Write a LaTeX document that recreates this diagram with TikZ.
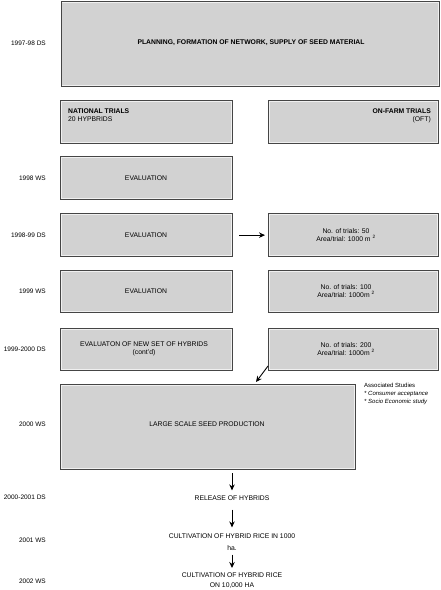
\documentclass[tikz,border=0pt]{standalone}
\usepackage{fontspec}
\setmainfont{Liberation Sans}
\usetikzlibrary{arrows.meta,calc}
\definecolor{boxfill}{HTML}{D2D2D2}
\definecolor{boxedge}{HTML}{454545}
\definecolor{boxlight}{HTML}{F0F0F0}
\begin{document}
\begin{tikzpicture}[x=1pt,y=-1pt,
  stagebox/.style={rectangle, fill=boxfill, draw=boxedge, line width=1.3pt, inner sep=0pt,
    path picture={\draw[boxlight, line width=2.6pt] (path picture bounding box.south west) rectangle (path picture bounding box.north east);}},
  txt/.style={inner sep=0pt, font=\fontsize{6.8}{8}\selectfont, align=center},
  boldtxt/.style={inner sep=0pt, font=\fontsize{6.8}{8}\selectfont\bfseries},
  yearlbl/.style={inner sep=0pt, anchor=east, font=\fontsize{6.5}{8}\selectfont},
  arr/.style={-{Stealth[length=6pt,width=5.5pt]}, line width=0.9pt, black}
]
\fill[white] (0,0) rectangle (440,590);
\useasboundingbox (0,0) rectangle (440,590);

% boxes
\node[stagebox, minimum width=378pt, minimum height=85pt, anchor=north west] (plan) at (60.5,0.8) {};
\node[stagebox, minimum width=172pt, minimum height=43pt, anchor=north west] (nt) at (60,100) {};
\node[stagebox, minimum width=170pt, minimum height=43pt, anchor=north west] (oft) at (268,100) {};
\node[stagebox, minimum width=172pt, minimum height=43pt, anchor=north west] (e1) at (60,156) {};
\node[stagebox, minimum width=172pt, minimum height=43pt, anchor=north west] (e2) at (60,213) {};
\node[stagebox, minimum width=170pt, minimum height=43pt, anchor=north west] (r2) at (268,213) {};
\node[stagebox, minimum width=172pt, minimum height=42pt, anchor=north west] (e3) at (60,270) {};
\node[stagebox, minimum width=170pt, minimum height=42pt, anchor=north west] (r3) at (268,270) {};
\node[stagebox, minimum width=172pt, minimum height=42pt, anchor=north west] (e4) at (60,328) {};
\node[stagebox, minimum width=170pt, minimum height=42pt, anchor=north west] (r4) at (268,328) {};
\node[stagebox, minimum width=295pt, minimum height=85pt, anchor=north west] (lsp) at (60,384) {};

% box texts
\node[boldtxt] (plantxt) at (251,43) {PLANNING, FORMATION OF NETWORK, SUPPLY OF SEED MATERIAL};
\node[inner sep=0pt, anchor=north west, align=left, font=\fontsize{6.8}{8}\selectfont] (nttxt) at (68,109)
  {\textbf{NATIONAL TRIALS}\\20 HYPBRIDS};
\node[inner sep=0pt, anchor=north east, align=right, font=\fontsize{6.8}{8}\selectfont] (ofttxt) at (431,109)
  {\textbf{ON-FARM TRIALS}\\(OFT)};
\node[txt] (e1txt) at (146,178) {EVALUATION};
\node[txt] (e2txt) at (146,235) {EVALUATION};
\node[txt] (r2txt) at (346,235) {No. of trials: 50\\Area/trial: 1000 m \textsuperscript{2}};
\node[txt] (e3txt) at (146,291) {EVALUATION};
\node[txt] (r3txt) at (346,291) {No. of trials: 100\\Area/trial: 1000m \textsuperscript{2}};
\node[txt] (e4txt) at (144,349) {EVALUATON OF NEW SET OF HYBRIDS\\(cont'd)};
\node[txt] (r4txt) at (346,349) {No. of trials: 200\\Area/trial: 1000m \textsuperscript{2}};
\node[txt] (lsptxt) at (207,424) {LARGE SCALE SEED PRODUCTION};

% associated studies
\node[inner sep=0pt, anchor=north west, align=left, font=\fontsize{6}{8}\selectfont] (assoc) at (364,383)
  {Associated Studies\\\textit{* Consumer acceptance}\\\textit{* Socio Economic study}};

% bottom steps
\node[txt] (rel) at (232,498) {RELEASE OF HYBRIDS};
\node[txt, font=\fontsize{6.8}{12}\selectfont] (cult1) at (232,542) {CULTIVATION OF HYBRID RICE IN 1000\\ha.};
\node[txt, font=\fontsize{6.8}{10}\selectfont] (cult2) at (232,581) {CULTIVATION OF HYBRID RICE\\ON 10,000 HA};

% year labels
\node[yearlbl] (y1) at (46,43) {1997-98 DS};
\node[yearlbl] (y2) at (46,178) {1998 WS};
\node[yearlbl] (y3) at (46,235) {1998-99 DS};
\node[yearlbl] (y4) at (46,291) {1999 WS};
\node[yearlbl] (y5) at (46,349) {1999-2000 DS};
\node[yearlbl] (y6) at (46,424) {2000 WS};
\node[yearlbl] (y7) at (46,497) {2000-2001 DS};
\node[yearlbl] (y8) at (46,540) {2001 WS};
\node[yearlbl] (y9) at (46,581) {2002 WS};

% connectors
\draw[arr, shorten <=6pt, shorten >=3pt] (e2) -- (r2);
\coordinate (d1) at (268,366);
\coordinate (d2) at (256,382);
\draw[arr] (d1) -- (d2);
\draw[arr, shorten <=3pt, shorten >=5pt] (lsp.south -| rel.north) -- (rel.north);
\draw[arr, shorten <=9pt, shorten >=6pt] (rel.south) -- (cult1.north);
\draw[arr, shorten <=4pt, shorten >=5pt] (cult1.south) -- (cult2.north);
\end{tikzpicture}
\end{document}
